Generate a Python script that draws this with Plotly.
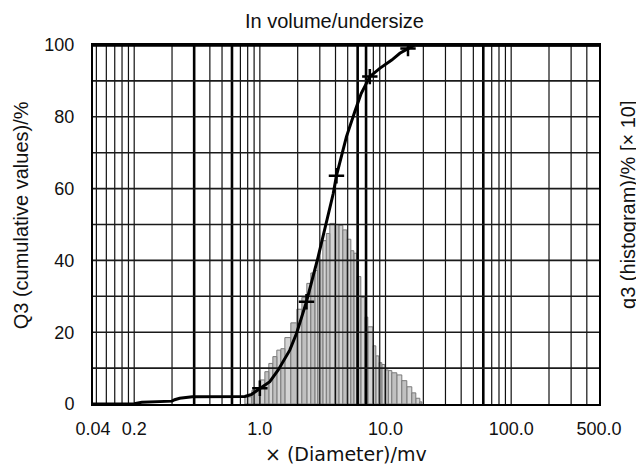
import math
import plotly.graph_objects as go

# ---------------- data ----------------
hist_edges = [0.76, 0.864, 1.0, 1.096, 1.179, 1.269, 1.365, 1.469, 1.581, 1.764,
              1.969, 2.159, 2.365, 2.545, 2.738, 2.893, 3.171, 3.381, 3.605, 3.951,
              4.252, 4.575, 4.922, 5.296, 5.595, 5.911, 6.36, 6.844, 7.231, 7.925,
              8.373, 8.846, 9.346, 9.872, 10.53, 11.22, 12.30, 13.48, 14.77, 16.19,
              17.42, 18.75, 19.45]
hist_q3 = [2.0, 3.8, 6.7, 9.0, 11.3, 13.2, 15.0, 15.4, 18.5, 22.6,
           26.4, 29.7, 33.6, 36.5, 37.2, 40.0, 45.5, 47.5, 50.3, 50.0,
           49.8, 48.5, 45.9, 42.7, 42.0, 35.5, 29.7, 24.2, 21.5, 16.2,
           13.4, 11.5, 11.0, 9.5, 9.3, 8.7, 8.1, 6.5, 4.8, 3.1,
           1.6, 0.6]

cum_x = [0.047, 0.10, 0.115, 0.20, 0.21, 0.23, 0.29, 0.76, 0.86, 1.0,
         1.2, 1.4, 1.73, 1.96, 2.21, 2.35, 2.91, 3.39, 3.83, 4.07,
         4.89, 5.70, 6.4, 7.5, 9.0, 11.2, 13.0, 15.1, 17.1, 500]
cum_Q3 = [0.0, 0.1, 0.5, 0.8, 1.2, 1.6, 2.0, 2.1, 2.7, 4.4,
          6.2, 9.5, 15.0, 19.7, 25.3, 28.5, 41.0, 50.3, 58.5, 63.6,
          74.5, 81.5, 86.5, 91.2, 93.5, 95.8, 97.7, 99.0, 100.0, 100.0]

mark_x = [1.0, 2.35, 4.07, 7.5, 15.1]
mark_Q3 = [4.4, 28.5, 63.6, 91.2, 99.0]

x_min, x_max = 0.047, 500
tick_vals = [0.047, 0.1, 1, 10, 100, 500]
tick_text = ["0.04", "0.2", "1.0", "10.0", "100.0", "500.0"]
y_ticks = [0, 20, 40, 60, 80, 100]
thick_lines = [0.3, 0.6, 6, 7, 60]

# ---------------- figure ----------------
fig = go.Figure()

# histogram bars (alternating shades)
for parity, fill in [(0, "#d4d4d4"), (1, "#c0c0c0")]:
    xs, ys = [], []
    for i, h in enumerate(hist_q3):
        if i % 2 != parity:
            continue
        l, r = hist_edges[i], hist_edges[i + 1]
        xs += [l, l, r, r, l, None]
        ys += [0, h, h, 0, 0, None]
    fig.add_trace(go.Scatter(x=xs, y=ys, mode="lines", fill="toself",
                             fillcolor=fill, line=dict(color="#7a7a7a", width=1),
                             hoverinfo="skip", showlegend=False))

# log grid (vertical lines at k*10^n)
grid_vals = []
for n in range(-2, 3):
    for k in range(1, 10):
        v = k * 10 ** n
        if x_min < v < x_max * 0.999:
            grid_vals.append(v)
gx, gy = [], []
for v in grid_vals:
    gx += [v, v, None]
    gy += [0, 100, None]
fig.add_trace(go.Scatter(x=gx, y=gy, mode="lines",
                         line=dict(color="#111111", width=1.2),
                         hoverinfo="skip", showlegend=False))
tx, ty = [], []
for v in thick_lines:
    tx += [v, v, None]
    ty += [0, 100, None]
fig.add_trace(go.Scatter(x=tx, y=ty, mode="lines",
                         line=dict(color="#000000", width=2.6),
                         hoverinfo="skip", showlegend=False))
# horizontal grid every 10 %
hx, hy = [], []
for yv in range(10, 100, 10):
    hx += [x_min, x_max, None]
    hy += [yv, yv, None]
fig.add_trace(go.Scatter(x=hx, y=hy, mode="lines",
                         line=dict(color="#1a1a1a", width=1.6),
                         hoverinfo="skip", showlegend=False))

# cumulative curve
fig.add_trace(go.Scatter(x=cum_x, y=cum_Q3, mode="lines",
                         line=dict(color="black", width=3),
                         hoverinfo="skip", showlegend=False))
fig.add_trace(go.Scatter(x=mark_x, y=mark_Q3, mode="markers",
                         marker=dict(symbol="cross-thin", size=11,
                                     line=dict(color="black", width=2.5)),
                         hoverinfo="skip", showlegend=False))

font_main = "Liberation Sans, Arial, sans-serif"

# the page body has an 8px margin, so the figure is sized to fit the window
fig.update_layout(
    width=636, height=460,
    margin=dict(l=85, r=45, t=37, b=64),
    paper_bgcolor="white", plot_bgcolor="white",
    showlegend=False,
    xaxis=dict(type="log", range=[math.log10(x_min), math.log10(x_max)],
               tickvals=tick_vals, ticktext=tick_text,
               ticks="outside", ticklen=7, tickcolor="rgba(0,0,0,0)",
               tickfont=dict(family=font_main, size=18, color="#111"),
               showgrid=False, zeroline=False,
               showline=True, mirror=True, linecolor="black", linewidth=2),
    yaxis=dict(range=[0, 100], tickvals=y_ticks,
               ticks="outside", ticklen=13, tickcolor="rgba(0,0,0,0)",
               tickfont=dict(family=font_main, size=18, color="#111"),
               showgrid=False, zeroline=False,
               showline=True, mirror=True, linecolor="black", linewidth=2),
    shapes=[dict(type="line", xref="paper", yref="paper", x0=0, x1=1, y0=1, y1=1,
                 line=dict(color="black", width=3.5), layer="above")],
    annotations=[
        dict(text="In volume/undersize", xref="paper", yref="paper",
             x=0.478, y=1.067, xanchor="center", yanchor="middle", showarrow=False,
             font=dict(family=font_main, size=20, color="#111")),
        dict(text="× (Diameter)/mv", xref="paper", yref="paper",
             x=0.5, y=-0.139, xanchor="center", yanchor="middle", showarrow=False,
             font=dict(family="DejaVu Sans, sans-serif", size=19, color="#111")),
        dict(text="Q3 (cumulative values)/%", xref="paper", yref="paper",
             x=-0.142, y=0.526, xanchor="center", yanchor="middle", showarrow=False,
             textangle=-90, font=dict(family=font_main, size=20, color="#111")),
        dict(text="q3 (histogram)/% [× 10]", xref="paper", yref="paper",
             x=1.057, y=0.554, xanchor="center", yanchor="middle", showarrow=False,
             textangle=-90, font=dict(family=font_main, size=20, color="#111")),
    ],
)

fig.write_html("out.html")
